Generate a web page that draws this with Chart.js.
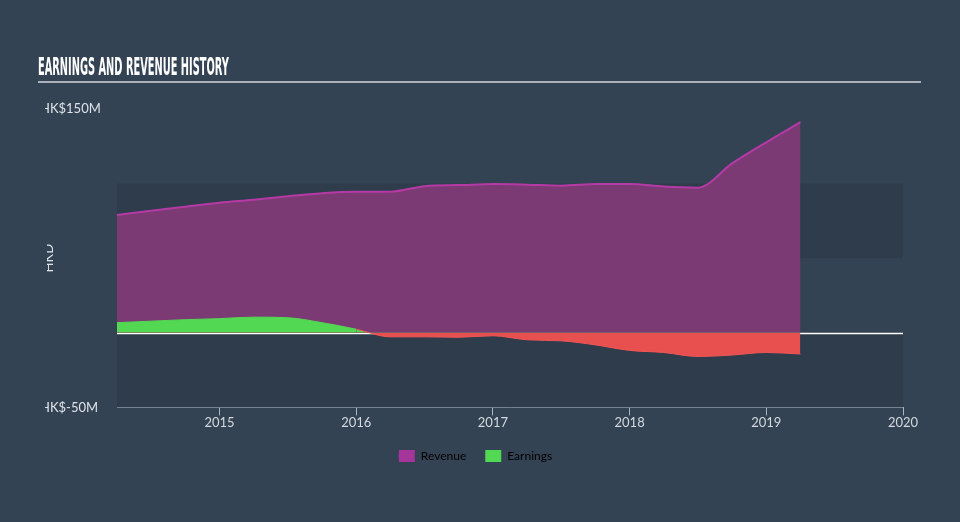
<!DOCTYPE html>
<html>
<head>
<meta charset="utf-8">
<script src="https://cdn.jsdelivr.net/npm/chart.js@4"></script>
<style>
  html, body { margin: 0; padding: 0; background: #344353; }
  #wrap { position: relative; width: 960px; height: 522px; }
  #title {
    position: absolute; left: 38px; top: 55px;
    font-family: "DejaVu Sans Condensed", "DejaVu Sans", sans-serif;
    font-weight: bold; font-size: 24px; line-height: 24px; color: #ffffff;
    transform-origin: 0 0; white-space: nowrap;
  }
  #rule { position: absolute; left: 38px; top: 81px; width: 883px; height: 2px; background: #a9b1ba; }
  canvas { position: absolute; left: 0; top: 0; }
</style>
</head>
<body>
<div id="wrap">
  <canvas id="myChart" width="960" height="522"></canvas>
  <div id="title">EARNINGS AND REVENUE HISTORY</div>
  <div id="rule"></div>
</div>
<script>
  // quarter ends, as decimal years
  const times = [
    2014.25, 2014.5, 2014.75, 2015, 2015.25, 2015.5, 2015.75,
    2016, 2016.25, 2016.5, 2016.75, 2017, 2017.25, 2017.5, 2017.75,
    2018, 2018.25, 2018.5, 2018.75, 2019, 2019.25
  ];
  // HK$ millions
  const revenue = [
    79, 81.8, 84.5, 87.2, 89.2, 91.6, 93.6,
    94.6, 94.6, 98.3, 99, 99.7, 99.3, 98.6, 99.7,
    99.8, 98, 97.3, 113.5, 127.7, 141.2
  ];
  const earnings = [
    6.8, 7.8, 8.8, 9.5, 10.5, 10.1, 6.8,
    2.4, -2.7, -2.7, -3, -2, -4.7, -5.4, -8.1,
    -11.8, -13.2, -15.9, -14.9, -13.2, -14.2
  ];
  const xTicks = [2015, 2016, 2017, 2018, 2019, 2020];
  const yTickLabels = [
    { value: 150, text: 'HK$150M' },
    { value: -50, text: 'HK$-50M' }
  ];
  const bands = [[50, 100], [-50, 0]];

  // squeeze the title into its width
  const t = document.getElementById('title');
  t.style.transform = 'scaleX(' + (191 / t.offsetWidth) + ')';

  const toPoints = (vals) => vals.map((v, i) => ({ x: times[i], y: v }));

  const backdrop = {
    id: 'backdrop',
    afterLayout(chart) {
      // legend sits centred on the whole page, not the plot
      chart.legend.left += 24;
      chart.legend.right += 24;
    },
    beforeDatasetsDraw(chart) {
      const { ctx, chartArea, scales } = chart;
      const y = scales.y;
      ctx.save();
      ctx.fillStyle = '#2e3c4b';
      bands.forEach(b => {
        const top = y.getPixelForValue(b[1]);
        const bot = y.getPixelForValue(b[0]);
        ctx.fillRect(chartArea.left, top, chartArea.right - chartArea.left, bot - top);
      });
      const z = Math.round(y.getPixelForValue(0)) + 0.5;
      ctx.strokeStyle = '#ffffff';
      ctx.lineWidth = 1.5;
      ctx.beginPath();
      ctx.moveTo(chartArea.left, z);
      ctx.lineTo(chartArea.right, z);
      ctx.stroke();
      ctx.restore();
    },
    afterDraw(chart) {
      const { ctx, scales } = chart;
      const y = scales.y;
      ctx.save();
      ctx.beginPath();
      ctx.rect(45, 0, 100, 522);
      ctx.clip();
      ctx.fillStyle = '#dde2e8';
      ctx.font = '13px Lato';
      ctx.textAlign = 'left';
      ctx.textBaseline = 'middle';
      yTickLabels.forEach(l => ctx.fillText(l.text, 40, y.getPixelForValue(l.value)));
      ctx.restore();
      ctx.save();
      ctx.beginPath();
      ctx.rect(47, 0, 100, 522);
      ctx.clip();
      ctx.fillStyle = '#dde2e8';
      ctx.font = '13px Lato';
      ctx.translate(53, (y.top + y.bottom) / 2);
      ctx.rotate(-Math.PI / 2);
      ctx.textAlign = 'center';
      ctx.textBaseline = 'alphabetic';
      ctx.fillText('HKD', 0, 0);
      ctx.restore();
    }
  };

  const data = {
    datasets: [{
      label: 'Earnings',
      data: toPoints(earnings),
      borderWidth: 1,
      segment: {
        borderColor: c => (c.p0.parsed.y < 0 || c.p1.parsed.y < 0) ? '#f25555' : '#53d853'
      },
      borderColor: '#53d853',
      fill: { target: 'origin', above: '#53d853', below: '#e85050' },
      pointRadius: 0,
      cubicInterpolationMode: 'monotone',
      order: 1
    }, {
      label: 'Revenue',
      data: toPoints(revenue),
      borderColor: '#b53aa5',
      borderWidth: 2,
      backgroundColor: '#7b3a74',
      fill: 'origin',
      pointRadius: 0,
      cubicInterpolationMode: 'monotone',
      order: 2
    }]
  };

  const config = {
    type: 'line',
    data: data,
    plugins: [backdrop],
    options: {
      responsive: false,
      animation: false,
      layout: { padding: { left: 0, right: 57, top: 109, bottom: 50 } },
      plugins: {
        tooltip: { enabled: false },
        legend: {
          position: 'bottom',
          labels: {
            color: '#dde2e8',
            font: { family: 'Lato', size: 12 },
            boxWidth: 16,
            boxHeight: 12,
            padding: 19,
            generateLabels: () => [
              { text: 'Revenue', fillStyle: '#a5359a', strokeStyle: '#a5359a', lineWidth: 0, datasetIndex: 1 },
              { text: 'Earnings', fillStyle: '#53d853', strokeStyle: '#53d853', lineWidth: 0, datasetIndex: 0 }
            ]
          }
        }
      },
      scales: {
        x: {
          type: 'linear',
          min: times[0],
          max: 2020,
          ticks: {
            stepSize: 1,
            color: '#d3d9df',
            font: { family: 'Lato', size: 13 },
            padding: 0,
            callback: v => String(v)
          },
          afterBuildTicks: s => { s.ticks = xTicks.map(v => ({ value: v })); },
          grid: { display: true, drawOnChartArea: false, drawTicks: true, tickLength: 8, color: '#a7b4c2' },
          border: { display: true, color: '#a7b4c2', width: 1 }
        },
        y: {
          min: -50,
          max: 150,
          ticks: { display: false },
          grid: { display: false },
          border: { display: false },
          afterFit: s => { s.width = 117; }
        }
      }
    }
  };

  const myChart = new Chart(
    document.getElementById('myChart'),
    config
  );
</script>
</body>
</html>
